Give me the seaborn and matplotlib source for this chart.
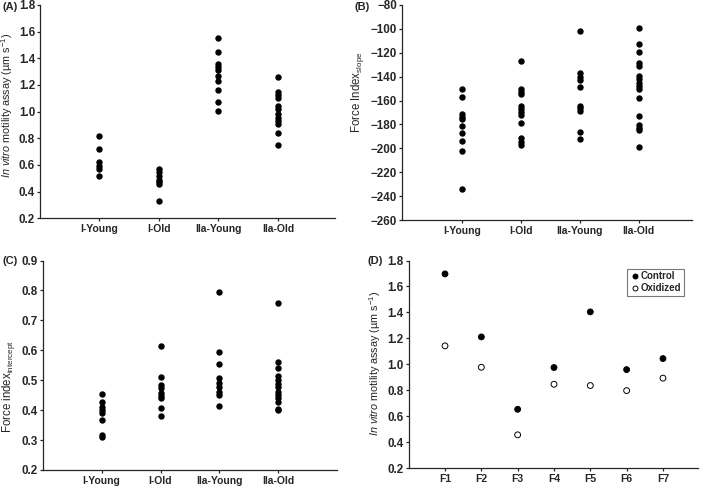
import seaborn as sns
import matplotlib.pyplot as plt
import pandas as pd

# group names
groups = ["I-Young", "I-Old", "IIa-Young", "IIa-Old"]
fibres = ["F1", "F2", "F3", "F4", "F5", "F6", "F7"]

# (A) in vitro motility speed per group
motility_i_young = [0.82, 0.72, 0.62, 0.59, 0.57, 0.52]
motility_i_old = [0.57, 0.55, 0.52, 0.49, 0.47, 0.46, 0.33]
motility_iia_young = [1.55, 1.445, 1.36, 1.335, 1.31, 1.27, 1.23, 1.165, 1.075, 1.005]
motility_iia_old = [1.26, 1.15, 1.125, 1.10, 1.04, 1.02, 0.98, 0.95, 0.93, 0.905, 0.84, 0.75]

# (B) force index slope
slope_i_young = [-150, -157, -171, -173.5, -175.5, -181, -187.5, -193.5, -202, -234]
slope_i_old = [-127, -150.5, -152.5, -154.5, -164.5, -167, -169.5, -172.5, -178.5, -191.5, -194.5, -197]
slope_iia_young = [-101.5, -137, -140, -142.5, -149, -164.5, -166.5, -168.5, -186, -192]
slope_iia_old = [-99.5, -112.5, -119, -129, -131, -139.5, -142, -145.5, -148, -150.5, -158,
                 -173, -180.5, -183, -185, -199]

# (C) force index intercept
icpt_i_young = [0.453, 0.428, 0.411, 0.400, 0.389, 0.367, 0.318, 0.311]
icpt_i_old = [0.615, 0.512, 0.484, 0.473, 0.456, 0.448, 0.440, 0.407, 0.379]
icpt_iia_young = [0.796, 0.594, 0.555, 0.509, 0.490, 0.477, 0.462, 0.451, 0.415]
icpt_iia_old = [0.758, 0.562, 0.540, 0.515, 0.501, 0.488, 0.477, 0.462, 0.451, 0.440,
                0.428, 0.403, 0.401]

# (D) control vs oxidized motility per fibre
control = [1.697, 1.211, 0.653, 0.975, 1.404, 0.959, 1.044]
oxidized = [1.142, 0.977, 0.456, 0.846, 0.836, 0.797, 0.893]


def long_form(lists):
    rows = []
    for g, vals in zip(groups, lists):
        rows += [(g, v) for v in vals]
    return pd.DataFrame(rows, columns=["group", "value"])


df_a = long_form([motility_i_young, motility_i_old, motility_iia_young, motility_iia_old])
df_b = long_form([slope_i_young, slope_i_old, slope_iia_young, slope_iia_old])
df_c = long_form([icpt_i_young, icpt_i_old, icpt_iia_young, icpt_iia_old])
df_d = pd.DataFrame({
    "fibre": fibres * 2,
    "value": control + oxidized,
    "treatment": ["Control"] * len(control) + ["Oxidized"] * len(oxidized),
})

sns.set_style("ticks")
plt.rcParams["font.family"] = ["Liberation Sans", "DejaVu Sans"]
plt.rcParams["mathtext.fontset"] = "custom"
plt.rcParams["mathtext.rm"] = "Liberation Sans"
plt.rcParams["mathtext.it"] = "Liberation Sans:italic"
plt.rcParams["axes.linewidth"] = 0.9

fig = plt.figure(figsize=(7.01, 4.87), dpi=100)
ax_a = fig.add_axes([0.057, 0.552, 0.421, 0.438])
ax_b = fig.add_axes([0.573, 0.548, 0.414, 0.442])
ax_c = fig.add_axes([0.061, 0.035, 0.420, 0.430])
ax_d = fig.add_axes([0.583, 0.039, 0.413, 0.426])

motility_label = r"$\it{In\ vitro}$ motility assay (µm s$^{-1}$)"

for ax, df in [(ax_a, df_a), (ax_b, df_b), (ax_c, df_c)]:
    sns.stripplot(data=df, x="group", y="value", jitter=False, color="black",
                  size=4.6, order=groups, ax=ax)

sns.stripplot(data=df_d, x="fibre", y="value", hue="treatment", jitter=False,
              palette={"Control": "black", "Oxidized": "white"}, edgecolor="black",
              linewidth=0.7, size=4.2, order=fibres, ax=ax_d)

ax_a.set(ylim=(0.2, 1.8), xlim=(-1, 3.96))
ax_a.set_yticks([0.2, 0.4, 0.6, 0.8, 1.0, 1.2, 1.4, 1.6, 1.8])
ax_a.set_ylabel(motility_label, fontsize=7.8, labelpad=3)
ax_a.yaxis.label.set_y(0.528)

ax_b.set(ylim=(-260, -80), xlim=(-1.02, 3.9))
ax_b.set_yticks(range(-260, -79, 20))
ax_b.set_ylabel(r"Force Index$_{\rm slope}$", fontsize=8.3, labelpad=3)
ax_b.yaxis.label.set_y(0.593)

ax_c.set(ylim=(0.2, 0.9), xlim=(-1, 4.0))
ax_c.set_yticks([0.2, 0.3, 0.4, 0.5, 0.6, 0.7, 0.8, 0.9])
ax_c.set_ylabel(r"Force index$_{\rm intercept}$", fontsize=8.3, labelpad=3)
ax_c.yaxis.label.set_y(0.40)

ax_d.set(ylim=(0.2, 1.8), xlim=(-1, 6.97))
ax_d.set_yticks([0.2, 0.4, 0.6, 0.8, 1.0, 1.2, 1.4, 1.6, 1.8])
ax_d.set_ylabel(motility_label, fontsize=7.8, labelpad=3)
ax_d.yaxis.label.set_y(0.506)

for ax in [ax_a, ax_b, ax_c, ax_d]:
    ax.set_xlabel("")
    ax.tick_params(axis="both", direction="out", length=2.5, width=0.9, pad=1)
    ax.tick_params(axis="x", labelsize=7.5, pad=2)
    ax.tick_params(axis="y", labelsize=8.4)
    for lab in ax.get_xticklabels() + ax.get_yticklabels():
        lab.set_fontweight("bold")
    sns.despine(ax=ax)

# panel tags
for (x, y), tag in [((0.004, 0.985), "(A)"), ((0.506, 0.985), "(B)"),
                    ((0.004, 0.465), "(C)"), ((0.524, 0.465), "(D)")]:
    fig.text(x, y, tag, fontsize=8, fontweight="bold", ha="left", va="center")

leg = ax_d.legend(loc="upper right", bbox_to_anchor=(0.968, 0.985), frameon=True,
                  fancybox=False, edgecolor="#555555", fontsize=7, handletextpad=0.1,
                  borderpad=0.3, labelspacing=0.2, handlelength=1.0, markerscale=0.85)
leg.get_frame().set_linewidth(0.8)
for t in leg.get_texts():
    t.set_fontweight("bold")

fig.savefig("out.png", dpi=100)
